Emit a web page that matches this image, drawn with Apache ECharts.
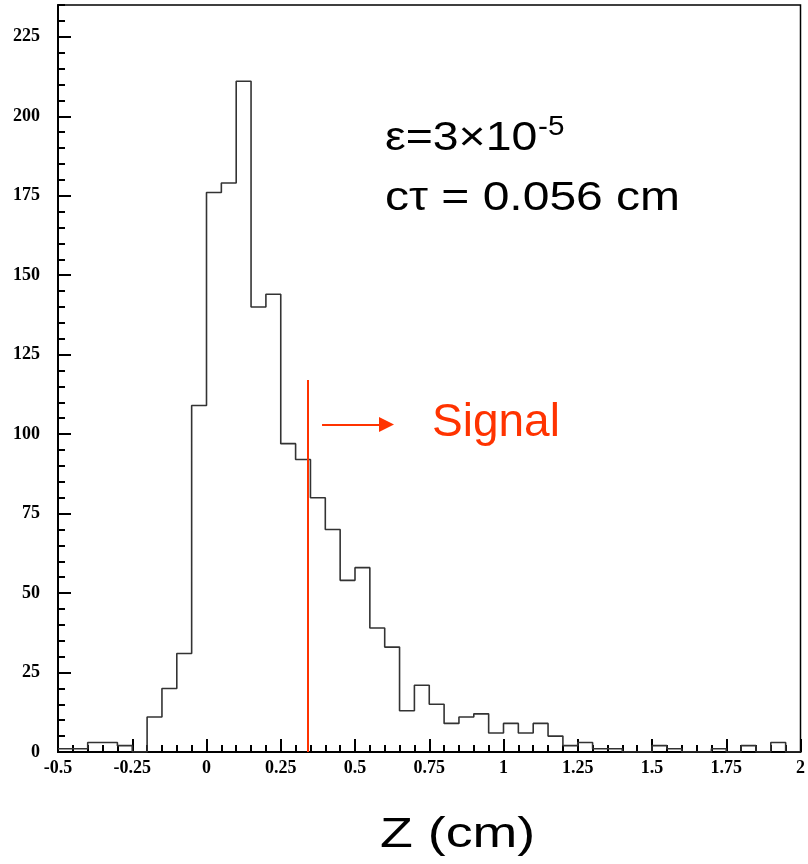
<!DOCTYPE html>
<html>
<head>
<meta charset="utf-8">
<script src="https://cdn.jsdelivr.net/npm/echarts@6/dist/echarts.min.js"></script>
<style>
html,body{margin:0;padding:0;background:#fff;}
#chart{width:808px;height:864px;}
</style>
</head>
<body>
<div id="chart"></div>
<script>
// Histogram bins: lower edges (width 0.05) and counts
const binEdges = [-0.5,-0.45,-0.4,-0.35,-0.3,-0.25,-0.2,-0.15,-0.1,-0.05,
  0,0.05,0.1,0.15,0.2,0.25,0.3,0.35,0.4,0.45,
  0.5,0.55,0.6,0.65,0.7,0.75,0.8,0.85,0.9,0.95,
  1,1.05,1.1,1.15,1.2,1.25,1.3,1.35,1.4,1.45,
  1.5,1.55,1.6,1.65,1.7,1.75,1.8,1.85,1.9,1.95];
const counts = [1,1,3,3,2,0,11,20,31,109,
  176,179,211,140,144,97,92,80,70,54,
  58,39,33,13,21,15,9,11,12,6,
  9,6,9,5,2,3,1,1,0,0,
  2,1,0,0,1,0,2,0,3,0];
const histEnd = 2;
const xTickLabels = ['-0.5','-0.25','0','0.25','0.5','0.75','1','1.25','1.5','1.75','2'];
const yTickLabels = ['0','25','50','75','100','125','150','175','200','225'];
// Annotations (data coordinates)
const signalCut = [[0.34, 0], [0.34, 117]];
const signalArrow = [[0.389, 103], [0.606, 103]];

const histData = binEdges.map((x, i) => [x, counts[i]]);
histData.push([histEnd, counts[counts.length - 1]]);

const chart = echarts.init(document.getElementById('chart'));
const labelFont = {fontFamily: 'Liberation Serif', fontWeight: 'bold', fontSize: 18, color: '#000'};

function fmtLabel(list) {
  return function (v) {
    const s = String(Math.round(v * 100) / 100);
    return list.indexOf(s) >= 0 ? s : '';
  };
}

chart.setOption({
  animation: false,
  backgroundColor: '#fff',
  grid: {left: 58, right: 2, top: 5, bottom: 112, show: true, borderColor: '#000', borderWidth: 1.5, backgroundColor: 'transparent'},
  xAxis: {
    type: 'value', min: -0.5, max: 2, interval: 0.25,
    axisLine: {show: true, onZero: false, lineStyle: {color: '#000', width: 2}},
    axisTick: {show: true, inside: true, length: 13, lineStyle: {color: '#000', width: 2}},
    minorTick: {show: true, splitNumber: 5, length: 7, lineStyle: {color: '#000', width: 2}},
    splitLine: {show: false},
    axisLabel: Object.assign({margin: 7, formatter: fmtLabel(xTickLabels), showMaxLabel: true}, labelFont)
  },
  yAxis: [{
    type: 'value', min: 0, max: 235, interval: 25, position: 'left',
    axisLine: {show: true, onZero: false, lineStyle: {color: '#000', width: 2}},
    axisTick: {show: true, inside: true, length: 13, lineStyle: {color: '#000', width: 2}},
    splitLine: {show: false},
    axisLabel: Object.assign({margin: 18, formatter: fmtLabel(yTickLabels), showMaxLabel: false}, labelFont)
  }, {
    type: 'value', min: 0, max: 235, interval: 5, position: 'left', offset: 0,
    axisLine: {show: false, onZero: false},
    axisTick: {show: true, inside: true, length: 7, lineStyle: {color: '#000', width: 2}},
    splitLine: {show: false},
    axisLabel: {show: false}
  }],
  series: [{
    type: 'line', step: 'end', data: histData, symbol: 'none',
    lineStyle: {color: '#333', width: 1.6}, z: 3,
    markLine: {
      silent: true, animation: false,
      label: {show: false},
      data: [
        [{coord: signalCut[0], symbol: 'none'}, {coord: signalCut[1], symbol: 'none'}],
        [{coord: signalArrow[0], symbol: 'none'}, {coord: signalArrow[1], symbol: 'triangle', symbolSize: [15, 15]}]
      ],
      lineStyle: {color: '#ff3300', width: 2, type: 'solid'},
      itemStyle: {color: '#ff3300'}
    }
  }],
  graphic: [
    {type: 'text', x: 385, y: 139, scaleX: 1.16, style: {text: 'ε=3×10', fontFamily: 'Liberation Sans', fontSize: 40, fill: '#000', align: 'left', verticalAlign: 'middle'}},
    {type: 'text', x: 538, y: 128, scaleX: 1.1, style: {text: '-5', fontFamily: 'Liberation Sans', fontSize: 27, fill: '#000', align: 'left', verticalAlign: 'middle'}},
    {type: 'text', x: 385, y: 199, scaleX: 1.2, style: {text: 'cτ = 0.056 cm', fontFamily: 'Liberation Sans', fontSize: 40, fill: '#000', align: 'left', verticalAlign: 'middle'}},
    {type: 'text', x: 432, y: 423, style: {text: 'Signal', fontFamily: 'Liberation Sans', fontSize: 46, fill: '#ff3300', align: 'left', verticalAlign: 'middle'}},
    {type: 'text', x: 380, y: 835, scaleX: 1.25, style: {text: 'Z (cm)', fontFamily: 'Liberation Sans', fontSize: 43, fill: '#000', align: 'left', verticalAlign: 'middle'}}
  ]
});
</script>
</body>
</html>
